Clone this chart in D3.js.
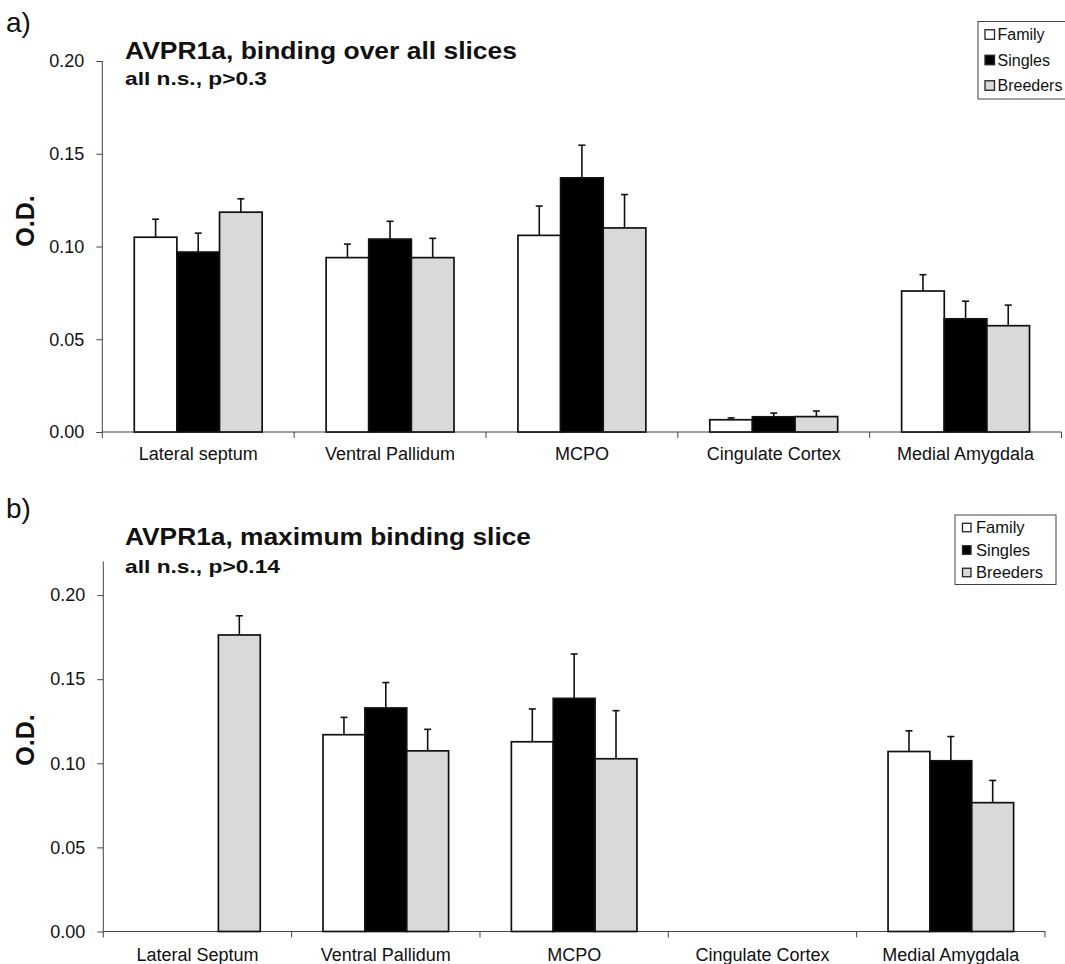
<!DOCTYPE html>
<html>
<head>
<meta charset="utf-8">
<script src="https://cdn.jsdelivr.net/npm/d3@7"></script>
<style>
  body { margin: 0; background: #fff; }
  svg { display: block; font-family: "Liberation Sans", Arial, sans-serif; }
</style>
</head>
<body>
<svg id="chart" width="1065" height="964"></svg>
<script>
// ---------- data ----------
const groups = ["Family", "Singles", "Breeders"];
const categoriesA = ["Lateral septum", "Ventral Pallidum", "MCPO", "Cingulate Cortex", "Medial Amygdala"];
const categoriesB = ["Lateral Septum", "Ventral Pallidum", "MCPO", "Cingulate Cortex", "Medial Amygdala"];
const yTicksA = [0, 0.05, 0.10, 0.15, 0.20];
const yTicksB = [0, 0.05, 0.10, 0.15, 0.20];

// panel a: binding over all slices
const aFamily      = [0.105, 0.094, 0.106, 0.0066, 0.076];
const aFamilyErr   = [0.0097, 0.0073, 0.0158, 0.0010, 0.0088];
const aSingles     = [0.097, 0.104, 0.137, 0.0082, 0.061];
const aSinglesErr  = [0.0102, 0.0096, 0.0176, 0.0020, 0.0095];
const aBreeders    = [0.1185, 0.094, 0.110, 0.0083, 0.0573];
const aBreedersErr = [0.0072, 0.0104, 0.0180, 0.0030, 0.0111];

// panel b: maximum binding slice (null = no bar)
const bFamily      = [null, 0.117, 0.1128, null, 0.107];
const bFamilyErr   = [null, 0.0103, 0.0195, null, 0.0123];
const bSingles     = [null, 0.1329, 0.1386, null, 0.1015];
const bSinglesErr  = [null, 0.0151, 0.0264, null, 0.0144];
const bBreeders    = [0.1763, 0.1074, 0.1027, null, 0.0766];
const bBreedersErr = [0.0114, 0.0128, 0.0286, null, 0.0132];

const fills = { Family: "#ffffff", Singles: "#000000", Breeders: "#d9d9d9" };

const svg = d3.select("#chart");

function panel(cfg) {
  const g = svg.append("g");
  const x = d3.scaleBand().domain(cfg.categories).range([cfg.x0, cfg.x1]).padding(0);
  const xi = d3.scaleBand().domain(groups).range([0, x.bandwidth()]).paddingInner(0).paddingOuter(0.75);
  const y = d3.scaleLinear().domain([0, cfg.ymax]).range([cfg.y0, cfg.ytop]);

  // y axis
  const yAxis = d3.axisLeft(y).tickValues(cfg.yTicks).tickFormat(d3.format(".2f"))
    .tickSize(6).tickPadding(12).tickSizeOuter(0);
  const ya = g.append("g").attr("transform", `translate(${cfg.x0},0)`).call(yAxis);
  ya.select(".domain").attr("stroke", "#444").attr("d", `M0,${cfg.y0}V${y(cfg.ymax)}`);
  ya.selectAll(".tick line").attr("stroke", "#444");
  ya.selectAll(".tick text").attr("font-size", 18).attr("fill", "#111")
    .attr("font-family", "'Liberation Sans', Arial, sans-serif");

  // x axis
  const xa = g.append("g").attr("transform", `translate(0,${cfg.y0})`);
  xa.append("line").attr("x1", cfg.x0).attr("x2", cfg.x1).attr("stroke", "#444");
  const bounds = cfg.categories.map(c => x(c)).concat([cfg.x1]);
  xa.selectAll("line.tk").data(bounds).join("line").attr("class", "tk")
    .attr("x1", d => d).attr("x2", d => d).attr("y1", 0).attr("y2", 6).attr("stroke", "#444");
  xa.selectAll("text").data(cfg.categories).join("text")
    .attr("x", d => x(d) + x.bandwidth() / 2).attr("y", cfg.labelDy)
    .attr("text-anchor", "middle").attr("font-size", 18).attr("fill", "#111").text(d => d);

  // bars
  const rows = [];
  groups.forEach((grp, gi) => {
    cfg.series[gi].forEach((v, ci) => {
      if (v !== null) rows.push({ grp, cat: cfg.categories[ci], v, e: cfg.errs[gi][ci] });
    });
  });
  g.append("g").selectAll("rect").data(rows).join("rect")
    .attr("x", d => x(d.cat) + xi(d.grp))
    .attr("width", xi.bandwidth())
    .attr("y", d => y(d.v))
    .attr("height", d => cfg.y0 - y(d.v))
    .attr("fill", d => fills[d.grp])
    .attr("stroke", "#111").attr("stroke-width", 1.7);
  const eb = g.append("g").attr("stroke", "#111").attr("stroke-width", 1.6);
  rows.forEach(d => {
    const cx = x(d.cat) + xi(d.grp) + xi.bandwidth() / 2;
    eb.append("line").attr("x1", cx).attr("x2", cx).attr("y1", y(d.v)).attr("y2", y(d.v + d.e));
    eb.append("line").attr("x1", cx - 3.5).attr("x2", cx + 3.5).attr("y1", y(d.v + d.e)).attr("y2", y(d.v + d.e));
  });

  // texts
  svg.append("text").attr("x", 6).attr("y", cfg.letterY).attr("font-size", 28).attr("fill", "#111").text(cfg.letter);
  svg.append("text").attr("x", 125).attr("y", cfg.titleY).attr("font-size", 24).attr("font-weight", "bold")
    .attr("fill", "#111").attr("textLength", cfg.titleW).attr("lengthAdjust", "spacingAndGlyphs").text(cfg.title);
  svg.append("text").attr("x", 125).attr("y", cfg.subY).attr("font-size", 19).attr("font-weight", "bold")
    .attr("fill", "#111").attr("textLength", cfg.subW).attr("lengthAdjust", "spacingAndGlyphs").text(cfg.sub);
  svg.append("text").attr("transform", `translate(${cfg.odX},${cfg.odY}) rotate(-90)`)
    .attr("text-anchor", "middle").attr("font-size", 25).attr("font-weight", "bold").attr("fill", "#111").text("O.D.");

  // legend
  const L = cfg.legend;
  const lg = svg.append("g");
  lg.append("rect").attr("x", L.x).attr("y", L.y).attr("width", L.w).attr("height", L.h)
    .attr("fill", "#fff").attr("stroke", "#444");
  groups.forEach((grp, i) => {
    const cy = L.y + L.first + i * L.step;
    lg.append("rect").attr("x", L.x + L.sx).attr("y", cy - L.ss / 2).attr("width", L.ss).attr("height", L.ss)
      .attr("fill", fills[grp]).attr("stroke", "#222").attr("stroke-width", 1.3);
    lg.append("text").attr("x", L.x + L.tx).attr("y", cy).attr("dy", "0.36em")
      .attr("font-size", L.fs).attr("fill", "#111").text(grp);
  });
}

panel({
  categories: categoriesA, yTicks: yTicksA, ymax: 0.20,
  x0: 102.3, x1: 1061.5, y0: 432, ytop: 61,
  series: [aFamily, aSingles, aBreeders], errs: [aFamilyErr, aSinglesErr, aBreedersErr],
  labelDy: 28, letter: "a)", letterY: 32,
  title: "AVPR1a,  binding over all slices", titleY: 59, titleW: 392,
  sub: "all n.s., p>0.3", subY: 85, subW: 142, odX: 34, odY: 221,
  legend: { x: 978, y: 21.5, w: 100, h: 77.5, first: 13, step: 25.5, sx: 7, ss: 9.5, tx: 19.5, fs: 16 }
});

panel({
  categories: categoriesB, yTicks: yTicksB, ymax: 0.22,
  x0: 103.3, x1: 1045, y0: 931.5, ytop: 931.5 - 0.22 * 1682,
  series: [bFamily, bSingles, bBreeders], errs: [bFamilyErr, bSinglesErr, bBreedersErr],
  labelDy: 29, letter: "b)", letterY: 518,
  title: "AVPR1a,  maximum binding slice", titleY: 545, titleW: 406,
  sub: "all n.s., p>0.14", subY: 573, subW: 155, odX: 34, odY: 740,
  legend: { x: 955, y: 515, w: 101, h: 69.5, first: 12.5, step: 22.5, sx: 7.5, ss: 8.5, tx: 21, fs: 16.5 }
});
</script>
</body>
</html>
